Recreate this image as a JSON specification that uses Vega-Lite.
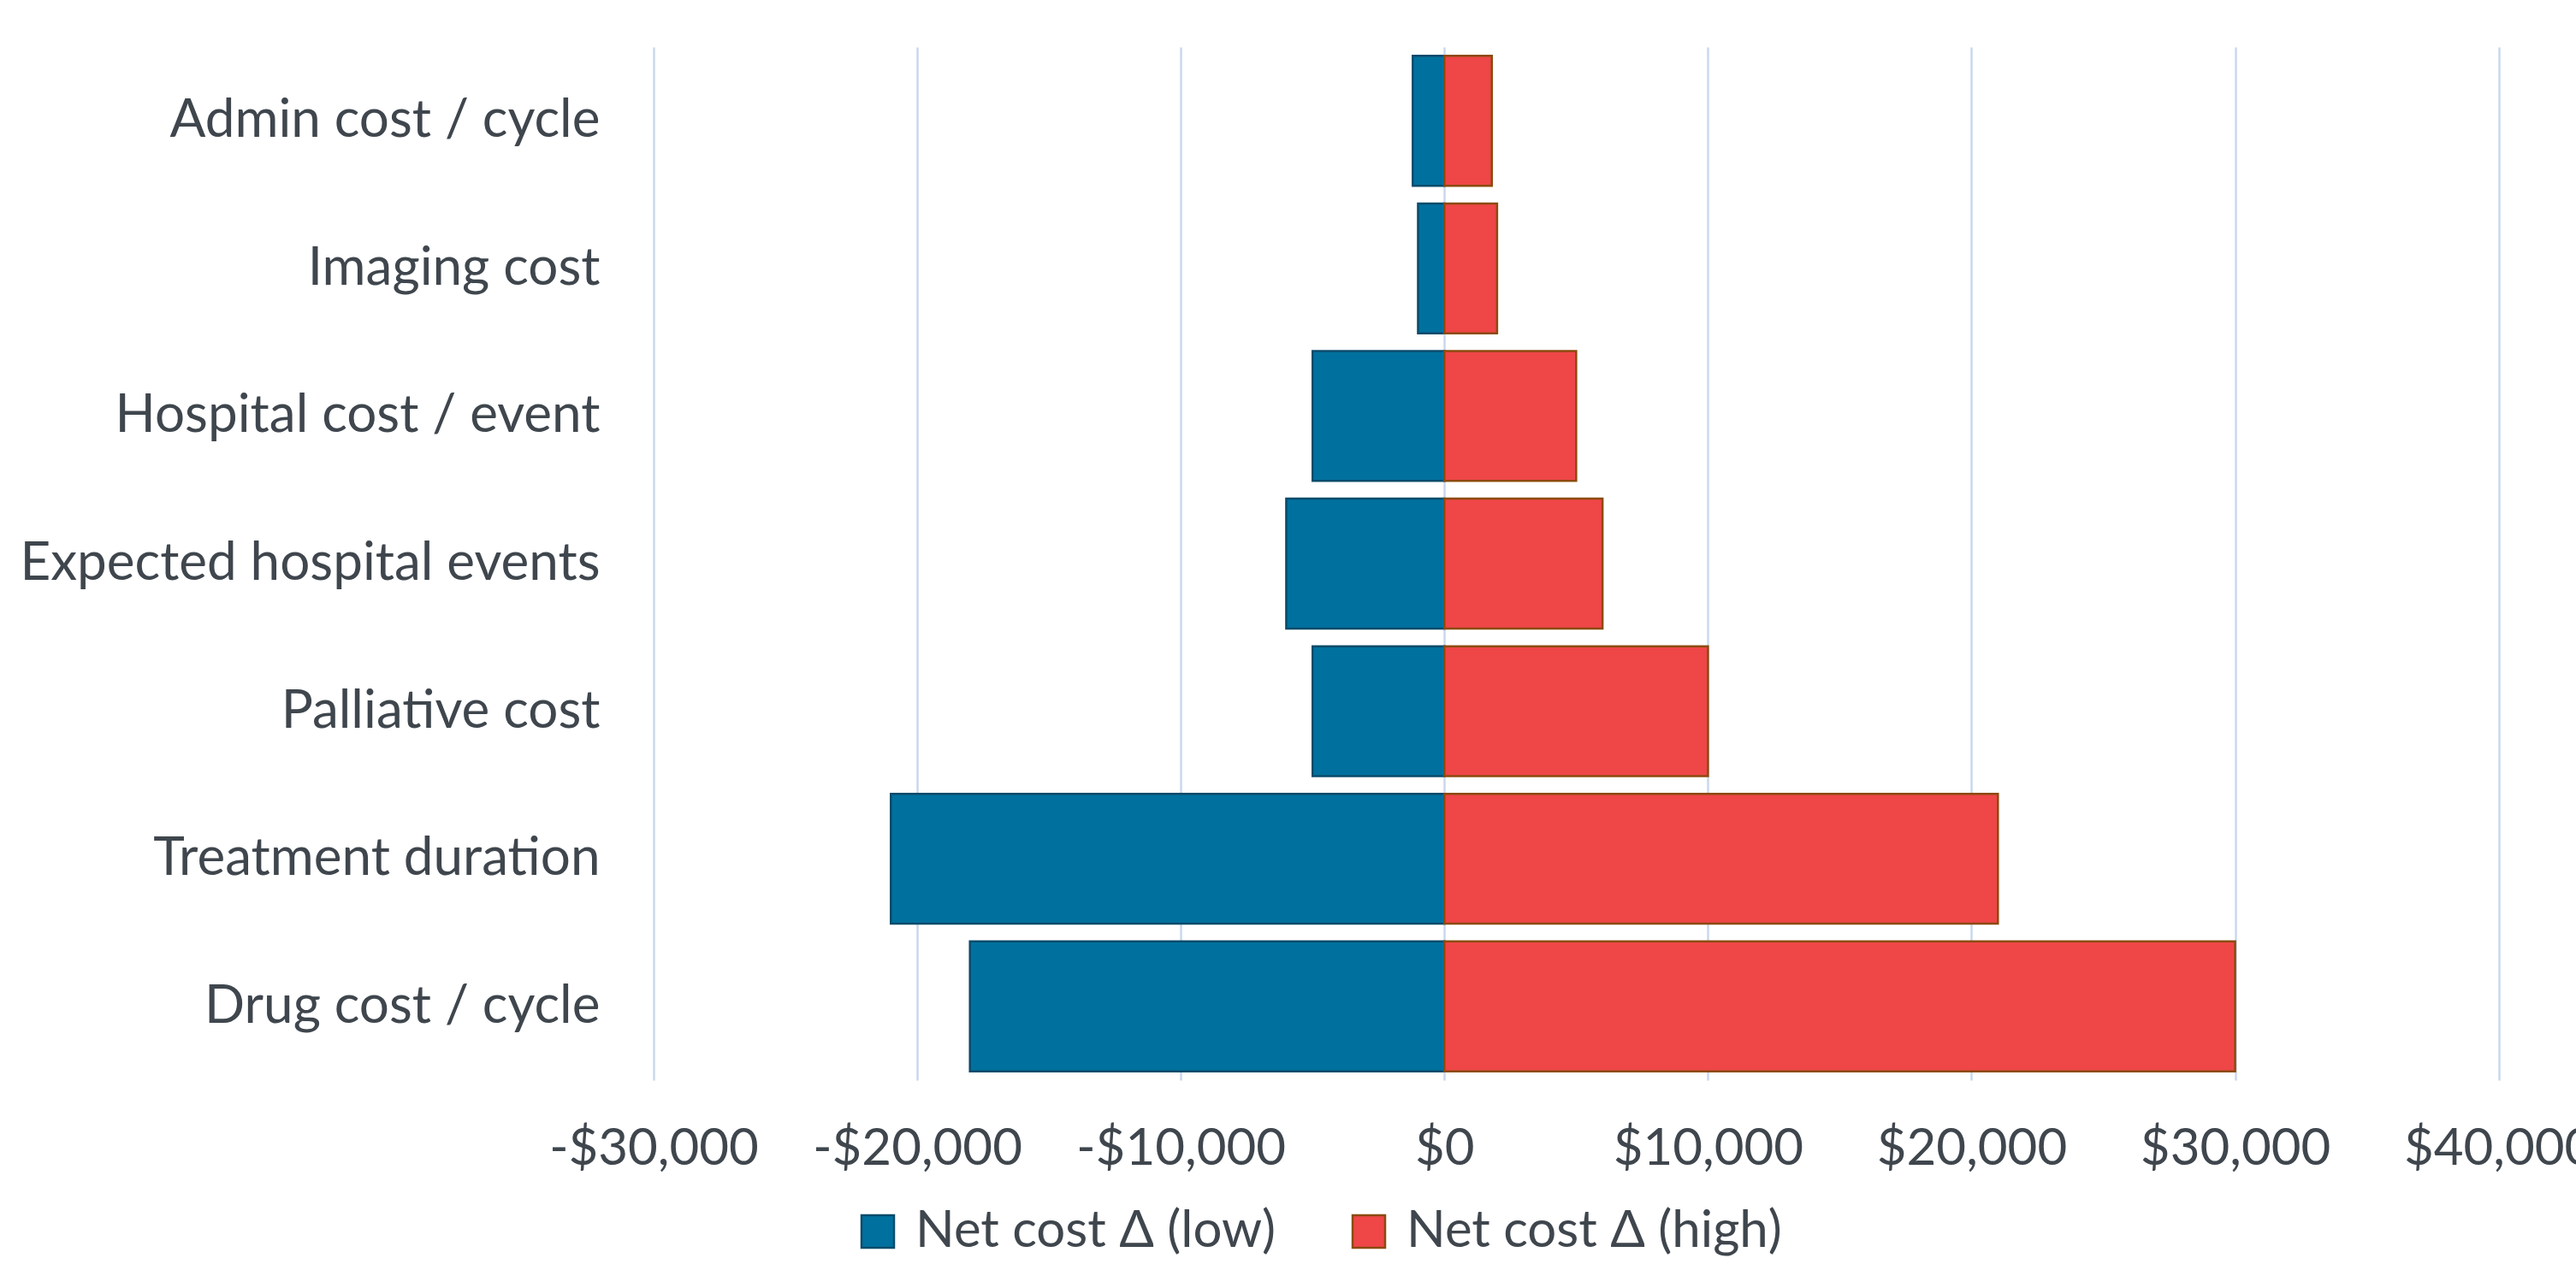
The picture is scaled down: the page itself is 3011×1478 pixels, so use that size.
{
  "$schema": "https://vega.github.io/schema/vega-lite/v6.json",
  "width": 2247,
  "height": 1208,
  "autosize": {"type": "none"},
  "padding": {"left": 764, "top": 55, "right": 0, "bottom": 215},
  "background": "white",
  "config": {"view": {"stroke": null}, "font": "Lato"},
  "data": {
    "values": [
      {"parameter": "Admin cost / cycle", "series": "Net cost Δ (low)", "delta": -1200},
      {"parameter": "Admin cost / cycle", "series": "Net cost Δ (high)", "delta": 1800},
      {"parameter": "Imaging cost", "series": "Net cost Δ (low)", "delta": -1000},
      {"parameter": "Imaging cost", "series": "Net cost Δ (high)", "delta": 2000},
      {"parameter": "Hospital cost / event", "series": "Net cost Δ (low)", "delta": -5000},
      {"parameter": "Hospital cost / event", "series": "Net cost Δ (high)", "delta": 5000},
      {"parameter": "Expected hospital events", "series": "Net cost Δ (low)", "delta": -6000},
      {"parameter": "Expected hospital events", "series": "Net cost Δ (high)", "delta": 6000},
      {"parameter": "Palliative cost", "series": "Net cost Δ (low)", "delta": -5000},
      {"parameter": "Palliative cost", "series": "Net cost Δ (high)", "delta": 10000},
      {"parameter": "Treatment duration", "series": "Net cost Δ (low)", "delta": -21000},
      {"parameter": "Treatment duration", "series": "Net cost Δ (high)", "delta": 21000},
      {"parameter": "Drug cost / cycle", "series": "Net cost Δ (low)", "delta": -18000},
      {"parameter": "Drug cost / cycle", "series": "Net cost Δ (high)", "delta": 30000}
    ]
  },
  "mark": {"type": "bar", "strokeWidth": 2.5},
  "encoding": {
    "y": {
      "field": "parameter",
      "type": "nominal",
      "sort": ["Admin cost / cycle", "Imaging cost", "Hospital cost / event", "Expected hospital events", "Palliative cost", "Treatment duration", "Drug cost / cycle"],
      "scale": {"paddingInner": 0.12, "paddingOuter": 0.06},
      "axis": {"title": null, "domain": false, "ticks": false, "tickSize": 0, "labelPadding": 63, "labelFontSize": 62, "labelColor": "#3f464d", "labelLimit": 0}
    },
    "x": {
      "field": "delta",
      "type": "quantitative",
      "stack": null,
      "scale": {"domain": [-30000, 42932], "nice": false, "zero": false},
      "axis": {
        "title": null,
        "values": [-30000, -20000, -10000, 0, 10000, 20000, 30000, 40000],
        "domain": false, "ticks": false, "tickSize": 0,
        "grid": true, "gridColor": "#c9d8ec", "gridWidth": 2.5,
        "labelPadding": 51, "labelFontSize": 60, "labelColor": "#3f464d", "labelLimit": 0,
        "labelFlush": false, "labelOverlap": false,
        "labelExpr": "(datum.value < 0 ? '-$' : '$') + format(abs(datum.value), ',')"
      }
    },
    "fill": {
      "field": "series",
      "type": "nominal",
      "scale": {"domain": ["Net cost Δ (low)", "Net cost Δ (high)"], "range": ["#00719e", "#ef4648"]},
      "legend": {"title": null, "orient": "none", "legendX": 232, "legendY": 1355, "direction": "horizontal", "symbolType": "square", "symbolSize": 1444, "symbolStrokeWidth": 2.5, "labelFontSize": 60, "labelColor": "#3f464d", "labelOffset": 14, "columnPadding": 80, "padding": 0, "labelLimit": 0}
    },
    "stroke": {
      "field": "series",
      "type": "nominal",
      "scale": {"domain": ["Net cost Δ (low)", "Net cost Δ (high)"], "range": ["#0b4b6b", "#8c4a0c"]},
      "legend": {"title": null, "orient": "none", "legendX": 232, "legendY": 1355, "direction": "horizontal", "symbolType": "square", "symbolSize": 1444, "symbolStrokeWidth": 2.5, "labelFontSize": 60, "labelColor": "#3f464d", "labelOffset": 14, "columnPadding": 80, "padding": 0, "labelLimit": 0}
    }
  }
}
